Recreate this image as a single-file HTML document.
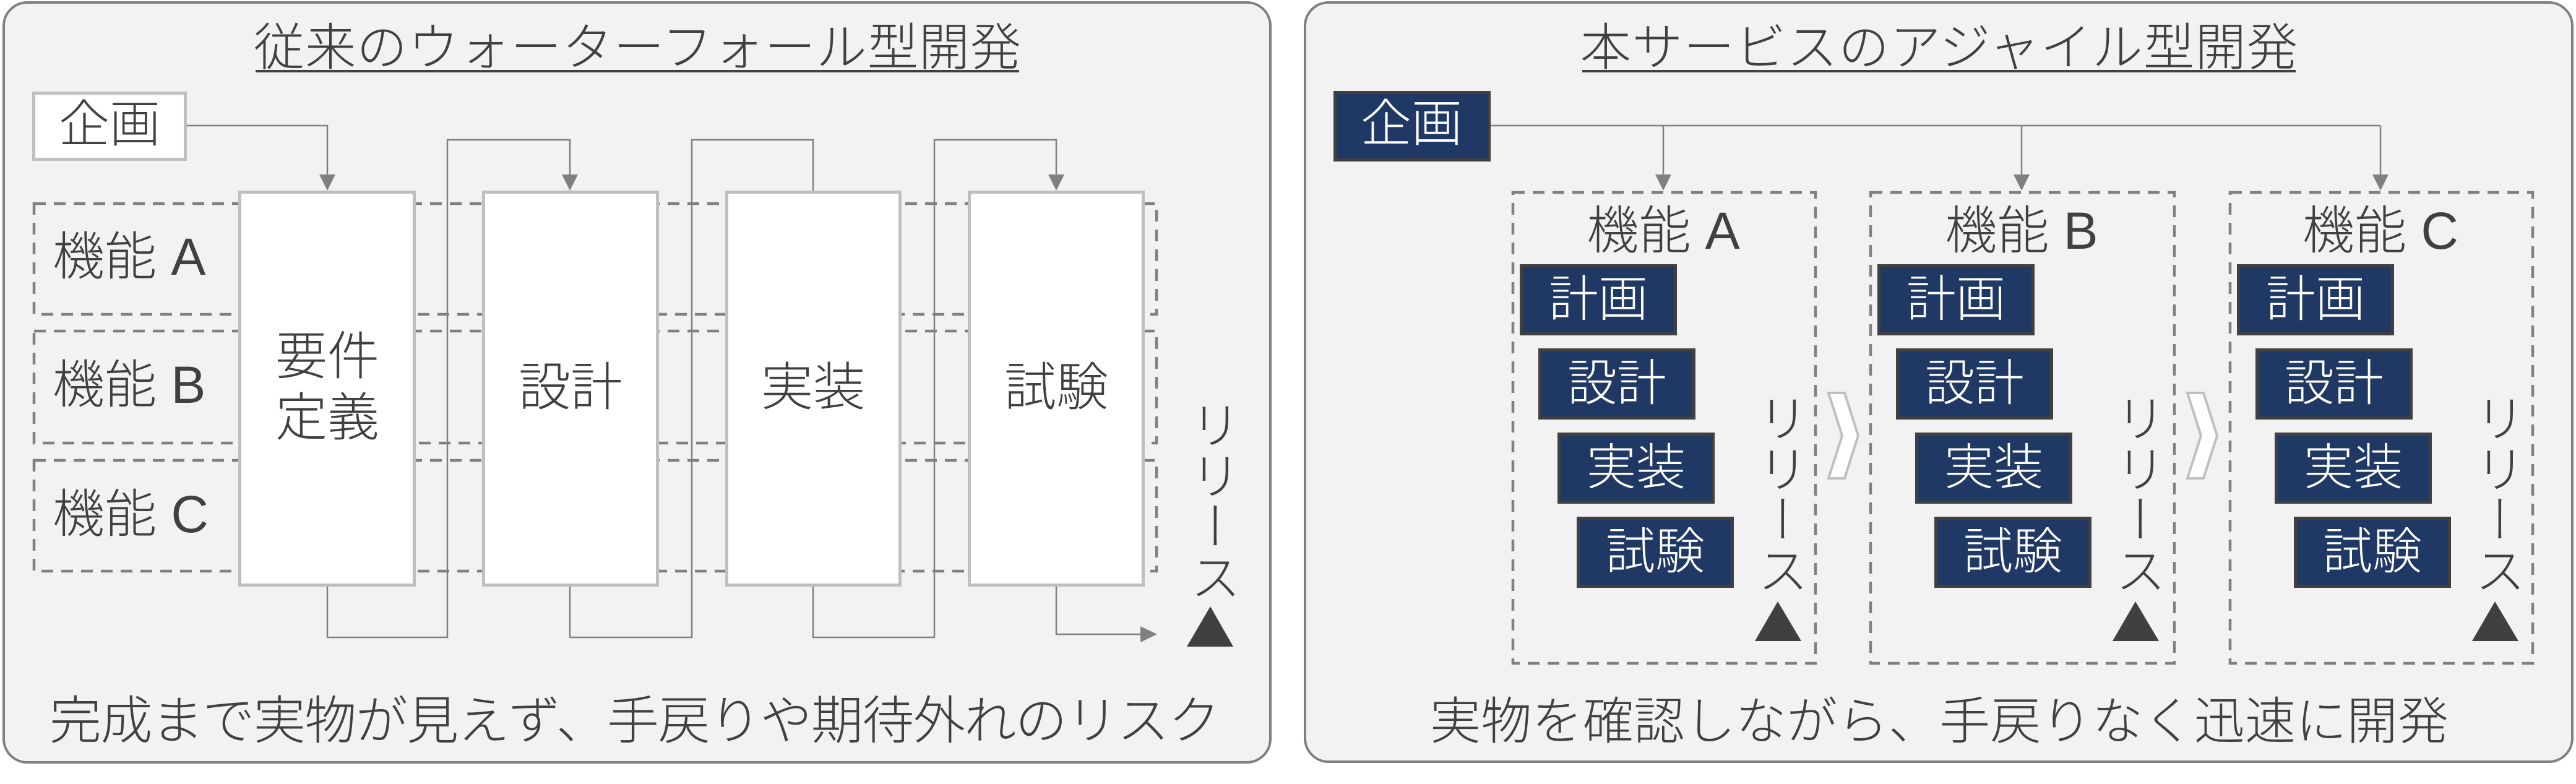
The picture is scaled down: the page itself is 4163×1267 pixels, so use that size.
<!DOCTYPE html>
<html>
<head>
<meta charset="utf-8">
<style>
  html,body{margin:0;padding:0;background:#ffffff;}
  #wrap{position:relative;width:4163px;height:1267px;overflow:hidden;background:#ffffff;}
  svg{position:absolute;left:0;top:0;}
  svg text{font-family:"Liberation Sans","Noto Sans CJK JP",sans-serif;font-weight:300;fill:#404040;}
  svg text.w{fill:#ffffff;}
  .rel{position:absolute;writing-mode:vertical-rl;text-orientation:upright;font-family:"Liberation Sans","Noto Sans CJK JP",sans-serif;font-weight:300;font-size:82px;line-height:82px;width:82px;color:#404040;white-space:nowrap;}
</style>
</head>
<body>
<div id="wrap">
<svg width="4163" height="1267" viewBox="0 0 4163 1267" xmlns="http://www.w3.org/2000/svg">
  <!-- Panels -->
  <rect x="6" y="4" width="2047" height="1228" rx="38" ry="38" fill="#f2f2f2" stroke="#808080" stroke-width="4"/>
  <rect x="2109" y="4" width="2048" height="1227" rx="38" ry="38" fill="#f2f2f2" stroke="#808080" stroke-width="4"/>

  <!-- ============ LEFT PANEL ============ -->
  <!-- Title -->
  <text x="410" y="105" font-size="82" textLength="1240" lengthAdjust="spacing">従来のウォーターフォール型開発</text>
  <rect x="413" y="113" width="1234" height="4" fill="#404040"/>

  <!-- Dashed feature rows -->
  <g fill="none" stroke="#808080" stroke-width="4.5" stroke-dasharray="19 13">
    <rect x="55" y="329" width="1814" height="179"/>
    <rect x="55" y="535" width="1814" height="181"/>
    <rect x="55" y="744" width="1814" height="179"/>
  </g>

  <!-- Connectors -->
  <g fill="none" stroke="#808080" stroke-width="2.5">
    <path d="M302,203 H529 V284"/>
    <path d="M529,948 V1030 H723 V226 H921 V284"/>
    <path d="M921,948 V1030 H1118 V226 H1314 V310"/>
    <path d="M1314,948 V1030 H1510 V226 H1707 V284"/>
    <path d="M1707,948 V1025 H1846"/>
  </g>
  <g fill="#808080">
    <polygon points="516,282 542,282 529,308"/>
    <polygon points="908,282 934,282 921,308"/>
    <polygon points="1694,282 1720,282 1707,308"/>
    <polygon points="1843,1012 1870,1025 1843,1038"/>
  </g>

  <!-- 企画 box (left) -->
  <rect x="54.5" y="150.5" width="245" height="107" fill="#ffffff" stroke="#bfbfbf" stroke-width="5"/>
  <text x="177" y="229" font-size="82" text-anchor="middle">企画</text>

  <!-- Phase boxes -->
  <g fill="#ffffff" stroke="#bfbfbf" stroke-width="5">
    <rect x="387.5" y="310.5" width="282" height="635"/>
    <rect x="781.5" y="310.5" width="281" height="635"/>
    <rect x="1174.5" y="310.5" width="280" height="635"/>
    <rect x="1566.5" y="310.5" width="281" height="635"/>
  </g>

  <!-- Feature labels -->
  <text x="85" y="444" font-size="84">機能 A</text>
  <text x="85" y="651" font-size="84">機能 B</text>
  <text x="85" y="860" font-size="84">機能 C</text>

  <!-- Phase labels -->
  <text x="529" y="605" font-size="84" text-anchor="middle">要件</text>
  <text x="529" y="704" font-size="84" text-anchor="middle">定義</text>
  <text x="922" y="655" font-size="84" text-anchor="middle">設計</text>
  <text x="1314" y="655" font-size="84" text-anchor="middle">実装</text>
  <text x="1707" y="655" font-size="84" text-anchor="middle">試験</text>

  <!-- Release triangle -->
  <polygon points="1918,1045 1993,1045 1956,980" fill="#404040"/>

  <!-- Bottom text -->
  <text x="80" y="1194" font-size="84" textLength="1892" lengthAdjust="spacing">完成まで実物が見えず、手戻りや期待外れのリスク</text>

  <!-- ============ RIGHT PANEL ============ -->
  <text x="2554" y="105" font-size="82" textLength="1159" lengthAdjust="spacing">本サービスのアジャイル型開発</text>
  <rect x="2557" y="113" width="1153" height="4" fill="#404040"/>

  <!-- Connectors -->
  <g fill="none" stroke="#808080" stroke-width="2.5">
    <path d="M2409,203 H3847"/>
    <path d="M2688,203 V284"/>
    <path d="M3267,203 V284"/>
    <path d="M3847,203 V284"/>
  </g>
  <g fill="#808080">
    <polygon points="2675,282 2701,282 2688,308"/>
    <polygon points="3254,282 3280,282 3267,308"/>
    <polygon points="3834,282 3860,282 3847,308"/>
  </g>

  <!-- 企画 box (right) -->
  <rect x="2157.5" y="149.5" width="249" height="109" fill="#203864" stroke="#404040" stroke-width="5"/>
  <text class="w" x="2281" y="228" font-size="82" text-anchor="middle">企画</text>

  <!-- Dashed feature boxes -->
  <g fill="none" stroke="#808080" stroke-width="4.5" stroke-dasharray="19 13">
    <rect x="2445" y="311" width="489" height="761"/>
    <rect x="3023" y="311" width="491" height="761"/>
    <rect x="3604" y="311" width="489" height="761"/>
  </g>

  <!-- Chevrons -->
  <g fill="#ffffff" stroke="#bfbfbf" stroke-width="4" stroke-linejoin="miter">
    <polygon points="2955,635 2981,635 3003,704 2981,773 2955,773 2977,704"/>
    <polygon points="3535,635 3561,635 3583,704 3561,773 3535,773 3557,704"/>
  </g>

  <!-- Feature A -->
  <text x="2688" y="402" font-size="84" text-anchor="middle">機能 A</text>
  <g fill="#203864" stroke="#404040" stroke-width="5">
    <rect x="2458.5" y="429.5" width="249" height="110"/>
    <rect x="2488.5" y="565.5" width="249" height="110"/>
    <rect x="2519.5" y="701.5" width="249" height="110"/>
    <rect x="2550.5" y="837.5" width="249" height="110"/>
  </g>
  <text class="w" x="2583" y="511" font-size="80" text-anchor="middle">計画</text>
  <text class="w" x="2613" y="647" font-size="80" text-anchor="middle">設計</text>
  <text class="w" x="2644" y="783" font-size="80" text-anchor="middle">実装</text>
  <text class="w" x="2675" y="919" font-size="80" text-anchor="middle">試験</text>
  <polygon points="2836,1036 2911,1036 2873,972" fill="#404040"/>

  <!-- Feature B -->
  <text x="3267" y="402" font-size="84" text-anchor="middle">機能 B</text>
  <g fill="#203864" stroke="#404040" stroke-width="5">
    <rect x="3036.5" y="429.5" width="249" height="110"/>
    <rect x="3066.5" y="565.5" width="249" height="110"/>
    <rect x="3097.5" y="701.5" width="249" height="110"/>
    <rect x="3128.5" y="837.5" width="249" height="110"/>
  </g>
  <text class="w" x="3161" y="511" font-size="80" text-anchor="middle">計画</text>
  <text class="w" x="3191" y="647" font-size="80" text-anchor="middle">設計</text>
  <text class="w" x="3222" y="783" font-size="80" text-anchor="middle">実装</text>
  <text class="w" x="3253" y="919" font-size="80" text-anchor="middle">試験</text>
  <polygon points="3414,1036 3489,1036 3451,972" fill="#404040"/>

  <!-- Feature C -->
  <text x="3847" y="402" font-size="84" text-anchor="middle">機能 C</text>
  <g fill="#203864" stroke="#404040" stroke-width="5">
    <rect x="3617.5" y="429.5" width="249" height="110"/>
    <rect x="3647.5" y="565.5" width="249" height="110"/>
    <rect x="3678.5" y="701.5" width="249" height="110"/>
    <rect x="3709.5" y="837.5" width="249" height="110"/>
  </g>
  <text class="w" x="3742" y="511" font-size="80" text-anchor="middle">計画</text>
  <text class="w" x="3772" y="647" font-size="80" text-anchor="middle">設計</text>
  <text class="w" x="3803" y="783" font-size="80" text-anchor="middle">実装</text>
  <text class="w" x="3834" y="919" font-size="80" text-anchor="middle">試験</text>
  <polygon points="3995,1036 4070,1036 4032,972" fill="#404040"/>

  <!-- Bottom text -->
  <text x="2311" y="1194" font-size="82" textLength="1646" lengthAdjust="spacing">実物を確認しながら、手戻りなく迅速に開発</text>
</svg>

<!-- Vertical release labels -->
<div class="rel" style="left:1915px;top:645px;">リリース</div>
<div class="rel" style="left:2832px;top:634px;">リリース</div>
<div class="rel" style="left:3410px;top:634px;">リリース</div>
<div class="rel" style="left:3991px;top:634px;">リリース</div>
</div>
</body>
</html>
